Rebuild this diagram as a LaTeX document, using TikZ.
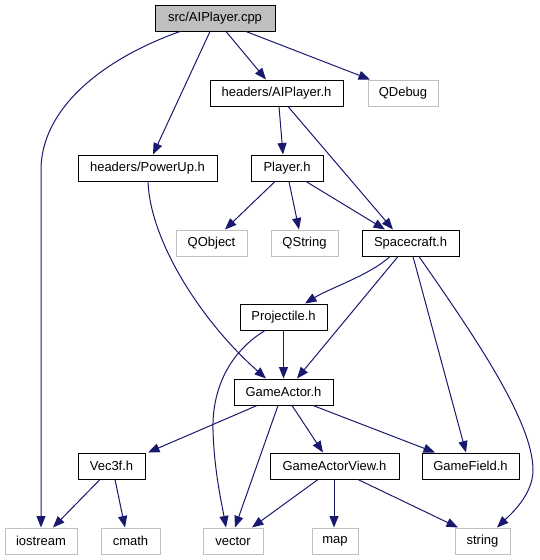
\documentclass[tikz,border=0pt]{standalone}
\usepackage{fontspec}
\setmainfont{Liberation Sans}
\usetikzlibrary{arrows.meta}
\definecolor{edgecol}{HTML}{191970}
\definecolor{greyline}{HTML}{BFBFBF}
\begin{document}
\begin{tikzpicture}[x=1pt,y=-1pt,
  box/.style={draw=black,line width=1pt,minimum height=26pt,inner sep=0pt,font=\fontsize{13}{15}\selectfont},
  gbox/.style={box,draw=greyline},
  root/.style={box,fill=greyline},
  edge/.style={draw=edgecol,line width=1pt,-{Triangle[length=11.5pt,width=9pt]}}]
\useasboundingbox (0,0) rectangle (539,560);
\fill[white] (0,0) rectangle (539,560);
% nodes
\node[root,minimum width=120pt] (cpp) at (215,18) {src/AIPlayer.cpp};
\node[box,minimum width=133pt] (aiph) at (276.5,93) {headers/AIPlayer.h};
\node[gbox,minimum width=70pt] (qdebug) at (403,93) {QDebug};
\node[box,minimum width=139pt] (powerup) at (147.5,168) {headers/PowerUp.h};
\node[box,minimum width=72pt] (player) at (287,168) {Player.h};
\node[gbox,minimum width=71pt] (qobject) at (211.5,243) {QObject};
\node[gbox,minimum width=67pt] (qstring) at (304.5,243) {QString};
\node[box,minimum width=97pt] (spacecraft) at (410.5,243) {Spacecraft.h};
\node[box,minimum width=87pt] (projectile) at (283.5,317) {Projectile.h};
\node[box,minimum width=99pt] (gameactor) at (283.5,392) {GameActor.h};
\node[box,minimum width=67pt] (vec3f) at (111.5,466) {Vec3f.h};
\node[box,minimum width=129pt] (gav) at (334.5,466) {GameActorView.h};
\node[box,minimum width=97pt] (gamefield) at (470.5,466) {GameField.h};
\node[gbox,minimum width=72pt] (iostream) at (41,541) {iostream};
\node[gbox,minimum width=59pt] (cmath) at (130.5,541) {cmath};
\node[gbox,minimum width=60pt] (vector) at (233,541) {vector};
\node[gbox,minimum width=46pt] (map) at (335,541) {map};
\node[gbox,minimum width=55pt] (string) at (482.5,541) {string};
% edges
\draw[edge] ([xshift=-35pt]cpp.south) .. controls (100,60) and (41,110) .. (41,170) -- (iostream.north);
\draw[edge] ([xshift=-5pt]cpp.south) -- ([xshift=5.5pt]powerup.north);
\draw[edge] ([xshift=11pt]cpp.south) -- ([xshift=-10.5pt]aiph.north);
\draw[edge] ([xshift=31pt]cpp.south) -- ([xshift=-33pt]qdebug.north);
\draw[edge] ([xshift=2.5pt]aiph.south) -- ([xshift=-4pt]player.north);
\draw[edge] ([xshift=11.5pt]aiph.south) -- ([xshift=-17.5pt]spacecraft.north);
\draw[edge] ([xshift=0.5pt]powerup.south) .. controls (150,240) and (200,320) .. ([xshift=-17.5pt]gameactor.north);
\draw[edge] ([xshift=-12pt]player.south) -- ([xshift=13.5pt]qobject.north);
\draw[edge] ([xshift=2pt]player.south) -- ([xshift=-5.5pt]qstring.north);
\draw[edge] ([xshift=19pt]player.south) -- ([xshift=-25.5pt]spacecraft.north);
\draw[edge] ([xshift=-20.5pt]spacecraft.south) .. controls (370,275) and (330,288) .. ([xshift=21.5pt]projectile.north);
\draw[edge] ([xshift=-12.5pt]spacecraft.south) -- ([xshift=13.5pt]gameactor.north);
\draw[edge] ([xshift=2.5pt]spacecraft.south) -- ([xshift=-4.5pt]gamefield.north);
\draw[edge] ([xshift=8.5pt]spacecraft.south) .. controls (470,330) and (533,420) .. (533,470) .. controls (533,495) and (510,515) .. ([xshift=14.5pt]string.north);
\draw[edge] (projectile.south) -- (gameactor.north);
\draw[edge] ([xshift=-18.5pt]projectile.south) .. controls (225,355) and (212,395) .. (213,430) .. controls (214,470) and (222,505) .. ([xshift=-7pt]vector.north);
\draw[edge] ([xshift=-26.5pt]gameactor.south) -- ([xshift=36.5pt]vec3f.north);
\draw[edge] ([xshift=-5.5pt]gameactor.south) -- ([xshift=2pt]vector.north);
\draw[edge] ([xshift=8.5pt]gameactor.south) -- ([xshift=-11.5pt]gav.north);
\draw[edge] ([xshift=29.5pt]gameactor.south) -- ([xshift=-35.5pt]gamefield.north);
\draw[edge] ([xshift=-11.5pt]vec3f.south) -- ([xshift=12pt]iostream.north);
\draw[edge] ([xshift=3.5pt]vec3f.south) -- ([xshift=-5.5pt]cmath.north);
\draw[edge] ([xshift=-16.5pt]gav.south) -- ([xshift=19pt]vector.north);
\draw[edge] ([xshift=-0.5pt]gav.south) -- ([xshift=-1pt]map.north);
\draw[edge] ([xshift=23.5pt]gav.south) -- ([xshift=-24.5pt]string.north);
\end{tikzpicture}
\end{document}
